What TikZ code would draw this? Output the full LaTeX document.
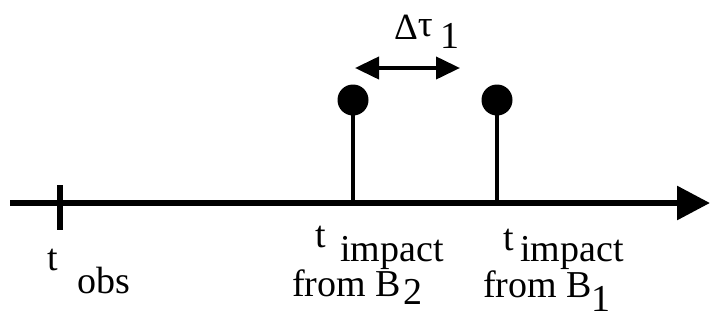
\documentclass[tikz,border=0pt]{standalone}
\usepackage{fontspec}
\setmainfont{Liberation Serif}
\usetikzlibrary{arrows.meta}

\begin{document}
\begin{tikzpicture}[x=1pt, y=-1pt, every node/.style={font=\fontsize{38}{42}\selectfont, inner sep=0pt, anchor=base west, text height=0.68em, text depth=0.15em},
    axis/.style={line width=6pt, -{Triangle[length=33pt, width=33pt]}},
    stem/.style={line width=4.5pt},
    dot/.style={circle, fill, minimum size=31pt, anchor=center, text height=, text depth=}]
    \useasboundingbox (0,0) rectangle (710,322);
    % time axis
    \coordinate (axis-start) at (10,203);
    \coordinate (axis-end) at (710,203);
    \draw[axis] (axis-start) -- (axis-end);
    \coordinate (obs-top) at (60,185);
    \coordinate (obs-bot) at (60,230);
    \draw[line width=6pt] (obs-top) -- (obs-bot);
    \node (t-obs) at (47,270) {t};
    \node (obs) at (77,293) {obs};
    % impacts
    \foreach \index/\xpos in {2/353,1/497} {
        \node[dot] (dot-\index) at (\xpos,100) {};
        \coordinate (foot-\index) at (\xpos,203);
        \draw[stem] (dot-\index.center) -- (foot-\index);
    }
    \node (t-2) at (315,247) {t};
    \node (impact-2) at (340,261) {impact};
    \node (from-2) at (292,296) {from B};
    \node (sub-2) at (403,304) {2};
    \node (t-1) at (503,250) {t};
    \node (impact-1) at (520,261) {impact};
    \node (from-1) at (483,297) {from B};
    \node (sub-1) at (591,311) {1};
    % spacing between the impacts
    \coordinate (gap-left) at (355,68);
    \coordinate (gap-right) at (460,68);
    \draw[line width=4pt, {Triangle[length=24pt, width=22pt]}-{Triangle[length=24pt, width=22pt]}] (gap-left) -- (gap-right);
    \node[font=\fontsize{37}{40}\selectfont] (delta-tau) at (394,39) {Δ\raisebox{3pt}[0pt][0pt]{τ}};
    \node (sub-tau) at (440,48) {1};
\end{tikzpicture}
\end{document}
